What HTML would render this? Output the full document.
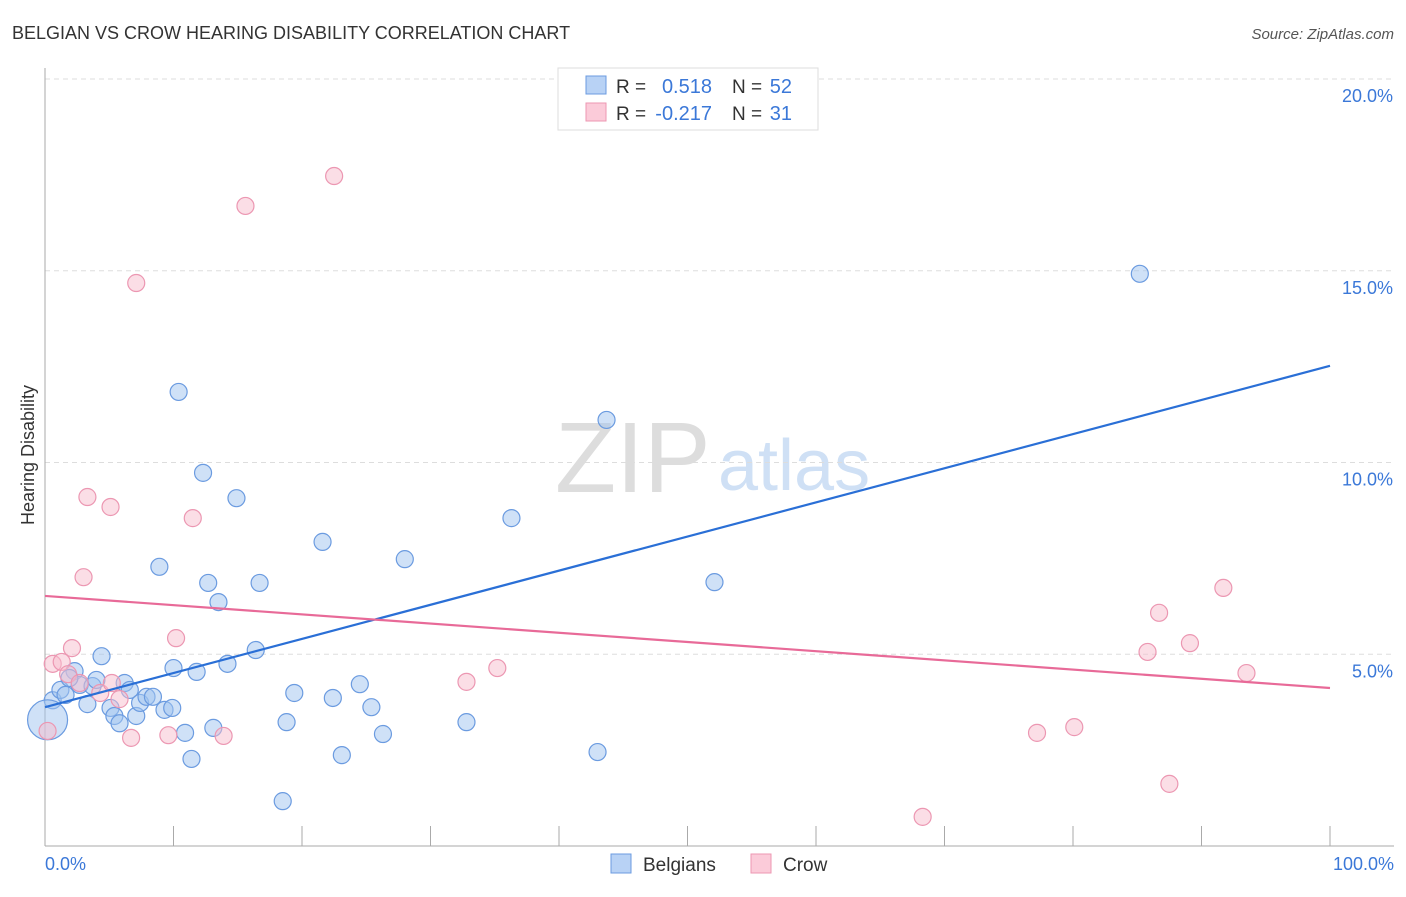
<!DOCTYPE html>
<html><head><meta charset="utf-8"><style>
body{margin:0;background:#fff;font-family:"Liberation Sans",sans-serif;}
svg text{font-family:"Liberation Sans",sans-serif;}
</style></head><body>
<svg id="c" width="1406" height="892" xmlns="http://www.w3.org/2000/svg">
<text x="12" y="39" font-size="18" fill="#333">BELGIAN VS CROW HEARING DISABILITY CORRELATION CHART</text>
<text x="1394" y="39" font-size="15" fill="#555" text-anchor="end" font-style="italic">Source: ZipAtlas.com</text>
<text x="555" y="492" font-size="100" fill="#ddd" font-family="Liberation Serif">ZIP</text>
<text x="718" y="490" font-size="72" fill="#cfe0f5">atlas</text>
<g id="grid"></g><g id="axes"></g><g id="marks"></g>
<text transform="translate(34,455) rotate(-90)" font-size="18" fill="#333" text-anchor="middle">Hearing Disability</text>
<text x="45" y="870" font-size="18" fill="#3b78d8">0.0%</text>
<text x="1394" y="870" font-size="18" fill="#3b78d8" text-anchor="end">100.0%</text>
<g>
<rect x="558" y="68" width="260" height="62" fill="#fff" stroke="#ddd"/>
<rect x="586" y="76" width="20" height="18" fill="#b8d2f5" stroke="#6b9be0"/>
<rect x="586" y="103" width="20" height="18" fill="#fbcbd9" stroke="#ec97b2"/>
<text x="616" y="93" font-size="19" fill="#333">R =</text>
<text x="712" y="93" font-size="20" fill="#3b78d8" text-anchor="end">0.518</text>
<text x="732" y="93" font-size="19" fill="#333">N =</text>
<text x="792" y="93" font-size="20" fill="#3b78d8" text-anchor="end">52</text>
<text x="616" y="120" font-size="19" fill="#333">R =</text>
<text x="712" y="120" font-size="20" fill="#3b78d8" text-anchor="end">-0.217</text>
<text x="732" y="120" font-size="19" fill="#333">N =</text>
<text x="792" y="120" font-size="20" fill="#3b78d8" text-anchor="end">31</text>
</g>
<g>
<rect x="611" y="854" width="20" height="19" fill="#b8d2f5" stroke="#6b9be0"/>
<text x="643" y="871" font-size="19" fill="#333">Belgians</text>
<rect x="751" y="854" width="20" height="19" fill="#fbcbd9" stroke="#ec97b2"/>
<text x="783" y="871" font-size="19" fill="#333">Crow</text>
</g>
</svg>
<script>
const yTicks=[5,10,15,20];
const yTickLabels=["5.0%","10.0%","15.0%","20.0%"];
const blueX=[0.6,1.2,1.6,2.3,2.7,3.3,3.7,4.0,4.4,5.1,5.4,5.8,6.2,6.6,7.1,7.4,7.9,8.4,8.9,9.3,9.9,10.0,10.4,10.9,11.4,11.8,12.3,12.7,13.1,13.5,14.2,14.9,16.4,16.7,18.5,18.8,19.4,21.6,22.4,23.1,24.5,25.4,26.3,28.0,32.8,36.3,43.0,43.7,52.1,85.2,0.2,1.9];
const blueY=[3.8,4.07,3.94,4.56,4.2,3.7,4.17,4.33,4.95,3.6,3.39,3.2,4.25,4.07,3.39,3.73,3.89,3.89,7.28,3.55,3.6,4.64,11.84,2.95,2.27,4.54,9.73,6.86,3.08,6.36,4.75,9.07,5.11,6.86,1.17,3.23,3.99,7.93,3.86,2.37,4.22,3.62,2.92,7.48,3.23,8.55,2.45,11.11,6.88,14.92,3.29,4.38];
const blueR=[8.5,8.5,8.5,8.5,8.5,8.5,8.5,8.5,8.5,8.5,8.5,8.5,8.5,8.5,8.5,8.5,8.5,8.5,8.5,8.5,8.5,8.5,8.5,8.5,8.5,8.5,8.5,8.5,8.5,8.5,8.5,8.5,8.5,8.5,8.5,8.5,8.5,8.5,8.5,8.5,8.5,8.5,8.5,8.5,8.5,8.5,8.5,8.5,8.5,8.5,20,8.5];
const pinkX=[0.2,0.6,1.3,1.8,2.1,2.7,3.0,3.3,4.3,5.1,5.2,5.8,6.7,7.1,9.6,10.2,11.5,13.9,15.6,22.5,32.8,35.2,77.2,80.1,85.8,86.7,87.5,89.1,91.7,93.5,68.3];
const pinkY=[3.0,4.75,4.8,4.48,5.16,4.25,7.01,9.1,3.99,8.84,4.25,3.83,2.82,14.68,2.89,5.42,8.55,2.87,16.69,17.47,4.28,4.64,2.95,3.1,5.06,6.08,1.62,5.29,6.73,4.51,0.76];
const blueLine=[3.62,12.52];
const pinkLine=[6.52,4.12];
const X=v=>45+v*12.85, Y=v=>846-v*38.35;
const NS="http://www.w3.org/2000/svg";
function mk(p,t,a){const e=document.createElementNS(NS,t);for(const k in a)e.setAttribute(k,a[k]);p.appendChild(e);return e;}
const grid=document.getElementById('grid'),axes=document.getElementById('axes'),marks=document.getElementById('marks');
yTicks.forEach((t,i)=>{
 const l=mk(grid,'line',{x1:45,x2:1394,y1:Y(t),y2:Y(t),stroke:'#ddd','stroke-dasharray':'5,4'});
 
 
 const tx=mk(grid,'text',{x:1393,y:Y(t)+23,'font-size':18,fill:'#3b78d8','text-anchor':'end'});
 tx.textContent=yTickLabels[i];
 
 
});
const ya=mk(axes,'line',{x1:45,x2:45,y1:68,y2:846,stroke:'#aaa'});


const xa=mk(axes,'line',{x1:45,x2:1394,y1:846,y2:846,stroke:'#aaa'});


for(let i=0;i<=10;i++){const t=mk(axes,'line',{x1:X(i*10),x2:X(i*10),y1:826,y2:846,stroke:'#aaa'});
 
 }
blueX.forEach((v,i)=>{const c=mk(marks,'circle',{cx:X(v),cy:Y(blueY[i]),r:blueR[i],fill:'rgba(160,196,240,0.5)',stroke:'#6b9be0','stroke-width':1.2});
 
 });
pinkX.forEach((v,i)=>{const c=mk(marks,'circle',{cx:X(v),cy:Y(pinkY[i]),r:8.5,fill:'rgba(248,190,205,0.5)',stroke:'#ec97b2','stroke-width':1.2});
 
 });
const bl=mk(marks,'line',{x1:X(0),y1:Y(blueLine[0]),x2:X(100),y2:Y(blueLine[1]),stroke:'#2a6fd6','stroke-width':2.2});


const pl=mk(marks,'line',{x1:X(0),y1:Y(pinkLine[0]),x2:X(100),y2:Y(pinkLine[1]),stroke:'#e86a98','stroke-width':2.2});


</script>
</body></html>
